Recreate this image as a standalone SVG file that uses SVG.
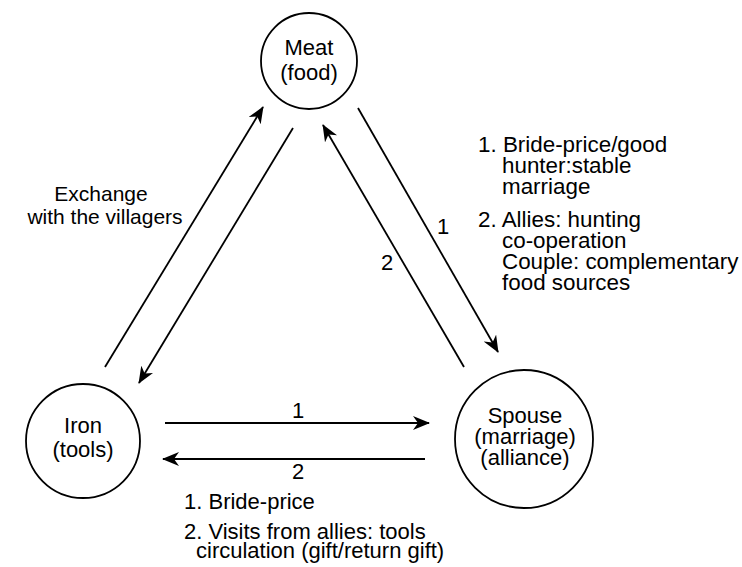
<svg xmlns="http://www.w3.org/2000/svg" width="742" height="567" viewBox="0 0 742 567">
<style>
.node circle{fill:none;stroke:#000;stroke-width:1.8}
text{font-family:"Liberation Sans",Arial,sans-serif;font-size:22px;fill:#000}
.c{text-anchor:middle}
.ann{font-size:22.4px}
.ex{font-size:21px}
.conn line{stroke:#000;stroke-width:1.8;marker-end:url(#ah)}
</style>
<defs>
<marker id="ah" markerUnits="userSpaceOnUse" markerWidth="18" markerHeight="14" viewBox="0 0 18 14" refX="16" refY="7" orient="auto">
<path d="M0,0 L17,7 L0,14 L5,7 Z" fill="#000"/>
</marker>
</defs>
<rect width="742" height="567" fill="#fff"/>
<g id="meat" class="node">
<circle cx="309" cy="61" r="48"/>
<text class="c" x="309" y="55">Meat</text>
<text class="c" x="309" y="80">(food)</text>
</g>
<g id="iron" class="node">
<circle cx="83" cy="441" r="57"/>
<text class="c" x="83" y="433">Iron</text>
<text class="c" x="83" y="457">(tools)</text>
</g>
<g id="spouse" class="node">
<circle cx="524" cy="439" r="69"/>
<text class="c" x="525" y="423">Spouse</text>
<text class="c" x="525" y="444">(marriage)</text>
<text class="c" x="525" y="465">(alliance)</text>
</g>
<g id="connectors" class="conn">
<line x1="105" y1="367" x2="263" y2="107"/>
<line x1="293" y1="128" x2="139" y2="383"/>
<line x1="358" y1="108" x2="498" y2="352"/>
<line x1="464" y1="367" x2="323" y2="125"/>
<line x1="165" y1="423" x2="429" y2="423"/>
<line x1="425" y1="459" x2="163" y2="459"/>
</g>
<g id="labels">
<text class="c" x="443" y="234">1</text>
<text class="c" x="387" y="270">2</text>
<text class="c" x="298" y="418">1</text>
<text class="c" x="298" y="479">2</text>
<text class="c ex" x="101" y="201">Exchange</text>
<text class="c ex" x="105" y="224">with the villagers</text>
<text class="ann" x="478" y="152">1. Bride-price/good</text>
<text class="ann" x="502" y="173">hunter:stable</text>
<text class="ann" x="502" y="194">marriage</text>
<text class="ann" x="478" y="227">2. Allies: hunting</text>
<text class="ann" x="502" y="248">co-operation</text>
<text class="ann" x="502" y="269">Couple: complementary</text>
<text class="ann" x="502" y="290">food sources</text>
<text x="184" y="509">1. Bride-price</text>
<text x="184" y="539">2. Visits from allies: tools</text>
<text x="196" y="558">circulation (gift/return gift)</text>
</g>
</svg>
